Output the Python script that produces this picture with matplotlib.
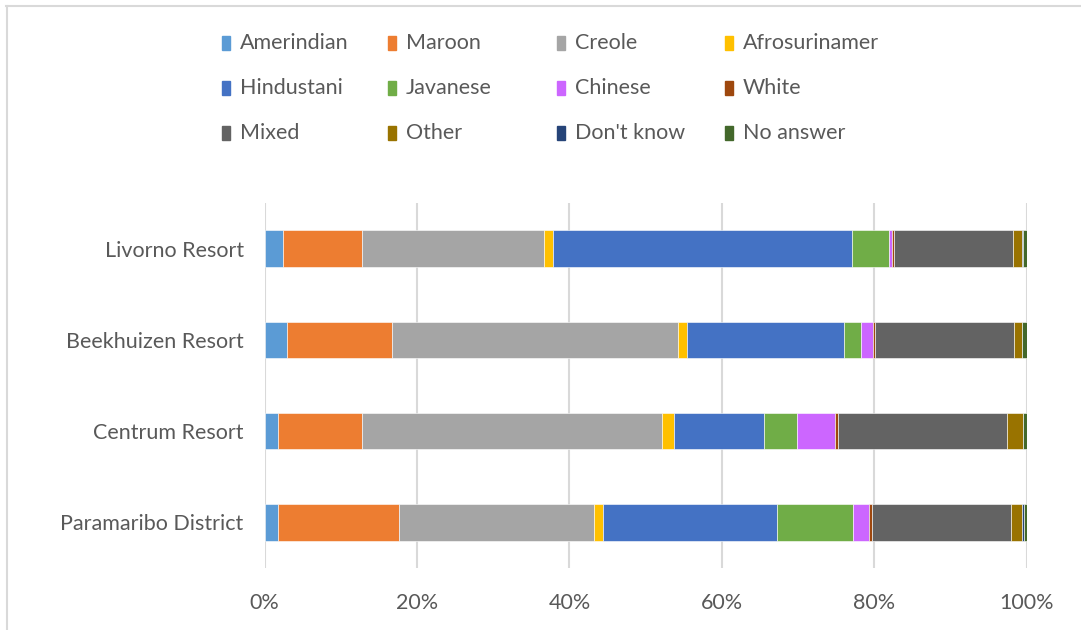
import numpy as np
import matplotlib.pyplot as plt
from matplotlib.lines import Line2D
from matplotlib.patches import Rectangle

plt.rcParams['font.family'] = ['Lato', 'DejaVu Sans']

# areas (bottom to top)
areas = ["Paramaribo District", "Centrum Resort", "Beekhuizen Resort", "Livorno Resort"]

groups = ["Amerindian", "Maroon", "Creole", "Afrosurinamer",
          "Hindustani", "Javanese", "Chinese", "White",
          "Mixed", "Other", "Don't know", "No answer"]

colors = ["#5b9bd5", "#ed7d31", "#a5a5a5", "#ffc000",
          "#4472c4", "#70ad47", "#cc66ff", "#9e480e",
          "#636363", "#997300", "#264478", "#43682b"]

# percentages per group, order follows areas
amerindian    = [1.73, 1.81, 2.91, 2.47]
maroon        = [15.95, 11.02, 13.85, 10.36]
creole        = [25.53, 39.34, 37.43, 23.83]
afrosurinamer = [1.18, 1.57, 1.22, 1.14]
hindustani    = [22.86, 11.81, 20.59, 39.30]
javanese      = [9.89, 4.29, 2.27, 4.84]
chinese       = [2.14, 4.94, 1.53, 0.39]
white         = [0.44, 0.43, 0.22, 0.23]
mixed         = [18.22, 22.21, 18.32, 15.64]
other         = [1.44, 2.06, 0.96, 1.18]
dont_know     = [0.20, 0.05, 0.10, 0.05]
no_answer     = [0.45, 0.52, 0.60, 0.62]

series = [amerindian, maroon, creole, afrosurinamer, hindustani, javanese,
          chinese, white, mixed, other, dont_know, no_answer]

W, H = 1081, 630
fig = plt.figure(figsize=(W / 100, H / 100), dpi=100)
ax = fig.add_axes([0.2447, 0.0984, 0.7053, 0.5794])

y = np.arange(len(areas))
left = np.zeros(len(areas))
for name, vals, c in zip(groups, series, colors):
    vals = np.array(vals)
    ax.barh(y, vals, left=left, height=0.4, color=c, label=name,
            edgecolor='white', linewidth=0.4, zorder=3)
    left += vals

ax.set_xlim(0, 100)
ax.set_ylim(-0.5, 3.5)
ax.set_xticks(np.arange(0, 101, 20))
ax.set_xticklabels([f"{v}%" for v in range(0, 101, 20)])
ax.set_yticks(y)
ax.set_yticklabels(areas)
ax.tick_params(axis='both', length=0, labelsize=15.5, colors='#595959')
ax.tick_params(axis='x', pad=18)
ax.tick_params(axis='y', pad=15)
ax.grid(axis='x', color='#d9d9d9', linewidth=1.5, zorder=0)
for s in ax.spines.values():
    s.set_visible(False)

# legend laid out in rows of four, equal column widths
col_x = [222, 388, 557, 725]
row_y = [43, 88, 133]
for i, (name, c) in enumerate(zip(groups, colors)):
    px = col_x[i % 4]
    py = row_y[i // 4]
    fig.add_artist(Rectangle((px / W, 1 - (py + 7) / H), 8 / W, 14 / H,
                             transform=fig.transFigure, color=c))
    fig.text((px + 18) / W, 1 - py / H, name, fontsize=15.5, color='#595959',
             va='center', ha='left')

# chart frame (top and left)
fig.add_artist(Line2D([0.006, 1.0], [0.9905, 0.9905], color='#d9d9d9', linewidth=1.5))
fig.add_artist(Line2D([0.0065, 0.0065], [0.0, 0.9905], color='#d9d9d9', linewidth=1.5))

fig.savefig('out.png', dpi=100)
